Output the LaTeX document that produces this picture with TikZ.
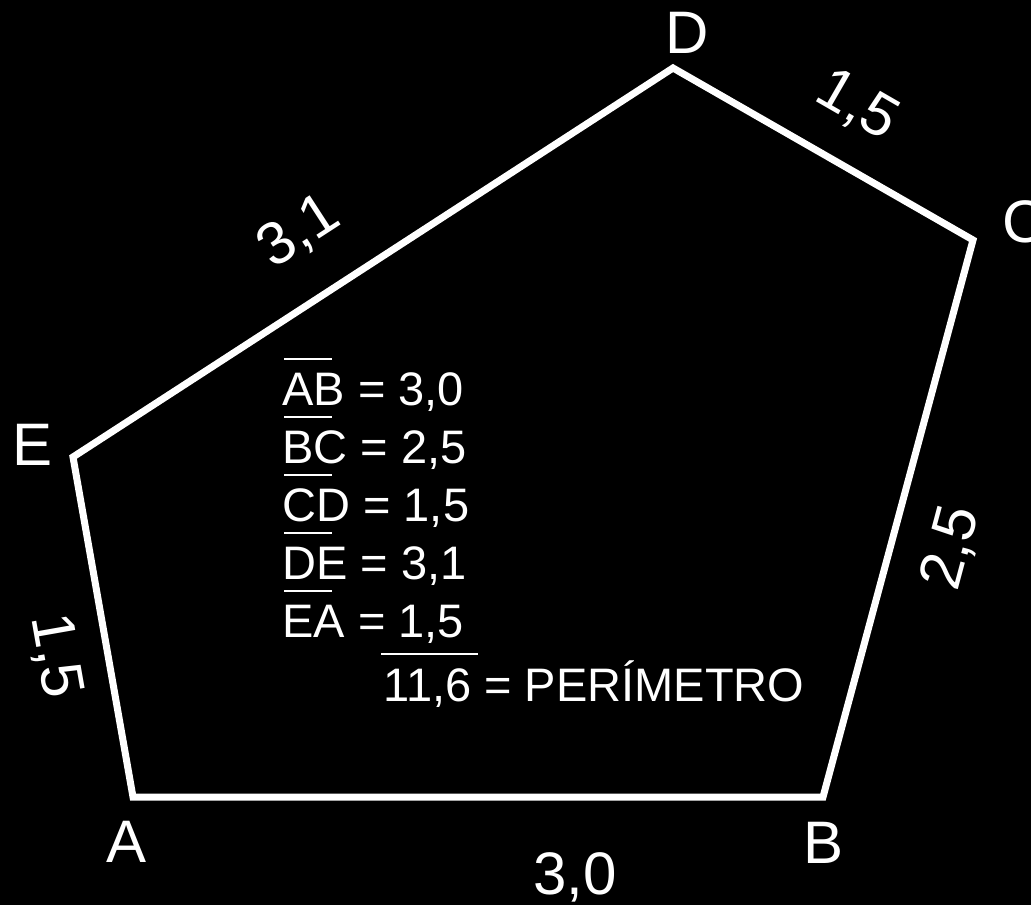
\documentclass[tikz,border=0pt]{standalone}
\usepackage{fontspec}
\setmainfont{Liberation Sans}
\definecolor{ink}{HTML}{000000}
\definecolor{chalk}{HTML}{FFFFFF}
\newcommand{\seg}[1]{\rlap{\kern1pt\rule[22.5pt]{24pt}{1pt}}#1}

\begin{document}
\begin{tikzpicture}[x=0.5pt,y=-0.5pt,
    every node/.style={text=chalk,inner sep=0pt},
    vlabel/.style={font=\fontsize{30}{36}\selectfont,anchor=base},
    elabel/.style={font=\fontsize{30}{36}\selectfont},
    sumline/.style={font=\fontsize{23.5}{28}\selectfont,anchor=base west}]
    \fill[ink] (0,0) rectangle (1031,905);
    \useasboundingbox (0,0) rectangle (1031,905);
    \foreach \n/\x/\y in {A/133/797,B/823/797,C/973/240,D/673/68,E/73/457}
      \coordinate (\n) at (\x,\y);
    \draw[chalk,line width=3.5pt] (A) -- (B) -- (C) -- (D) -- (E) -- cycle;
    \foreach \n/\x/\y in {A/127/862,B/823/863,C/1024/242,D/687/53,E/33/465}
      \node[vlabel] (lab-\n) at (\x,\y) {\n};
    \foreach \s/\x/\y/\r/\v in {AB/575/877/0/{3,0},BC/952/548/75/{2,5},
        CD/857/106/-30/{1,5},DE/299/232/33/{3,1},EA/55/656/-80/{1,5}}
      \node[elabel,rotate=\r] (len-\s) at (\x,\y) {\v};
    \foreach \s/\v/\y in {AB/{3,0}/405,BC/{2,5}/463,CD/{1,5}/521,DE/{3,1}/579,EA/{1,5}/637}
      \node[sumline] (seg-\s) at (282,\y) {\seg{\s} = \v};
    \node[sumline] (total) at (383,701)
      {\rlap{\kern-1pt\rule[23pt]{48.5pt}{1pt}}11,6 = PERÍMETRO};
  \end{tikzpicture}
\end{document}
